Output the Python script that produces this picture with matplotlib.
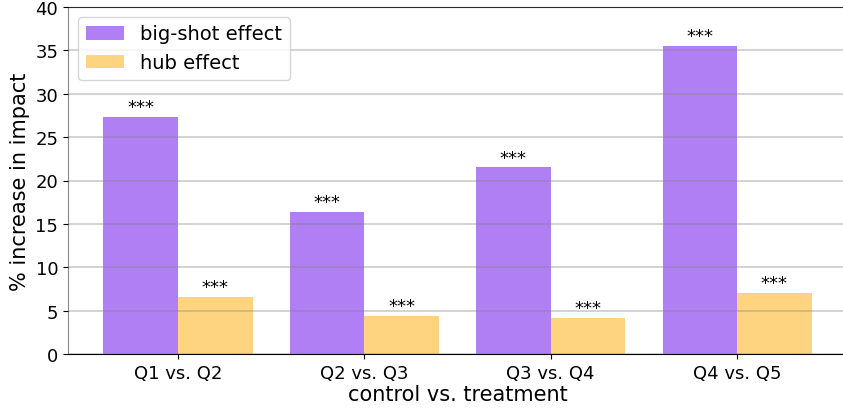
import matplotlib
matplotlib.use('Agg')
import matplotlib.pyplot as plt
import numpy as np

categories = ['Q1 vs. Q2', 'Q2 vs. Q3', 'Q3 vs. Q4', 'Q4 vs. Q5']
big_shot = [27.3, 16.4, 21.5, 35.5]
hub = [6.6, 4.4, 4.2, 7.0]
big_shot_sig = ['***', '***', '***', '***']
hub_sig = ['***', '***', '***', '***']

W, H = 843, 410
fig = plt.figure(figsize=(W / 100, H / 100), dpi=100)
ax = fig.add_axes([68 / W, 55 / H, (847 - 68) / W, (355 - 8) / H])

x = np.arange(len(categories))
width = 0.4
b1 = ax.bar(x - width / 2, big_shot, width, color='#b07ff3', label='big-shot effect', zorder=2)
b2 = ax.bar(x + width / 2, hub, width, color='#fed481', label='hub effect', zorder=2)

for rect, s in zip(b1, big_shot_sig):
    ax.text(rect.get_x() + rect.get_width() / 2, rect.get_height() + 0.1, s,
            ha='center', va='bottom', fontsize=13)
for rect, s in zip(b2, hub_sig):
    ax.text(rect.get_x() + rect.get_width() / 2, rect.get_height() + 0.1, s,
            ha='center', va='bottom', fontsize=13)

ax.set_ylim(0, 40)
ax.set_xlim(-0.59, 3.59)
ax.set_xticks(x)
ax.set_xticklabels(categories)
ax.tick_params(labelsize=13)
ax.set_ylabel('% increase in impact', fontsize=15)
ax.set_xlabel('control vs. treatment', fontsize=15, labelpad=2)
ax.yaxis.grid(True, color='gray', alpha=0.4, linewidth=1.2, zorder=3)
ax.set_axisbelow(False)
ax.spines['left'].set_color('#888888')
ax.spines['top'].set_color('black')
ax.legend(loc='upper left', fontsize=14)

fig.savefig('out.png', dpi=100)
